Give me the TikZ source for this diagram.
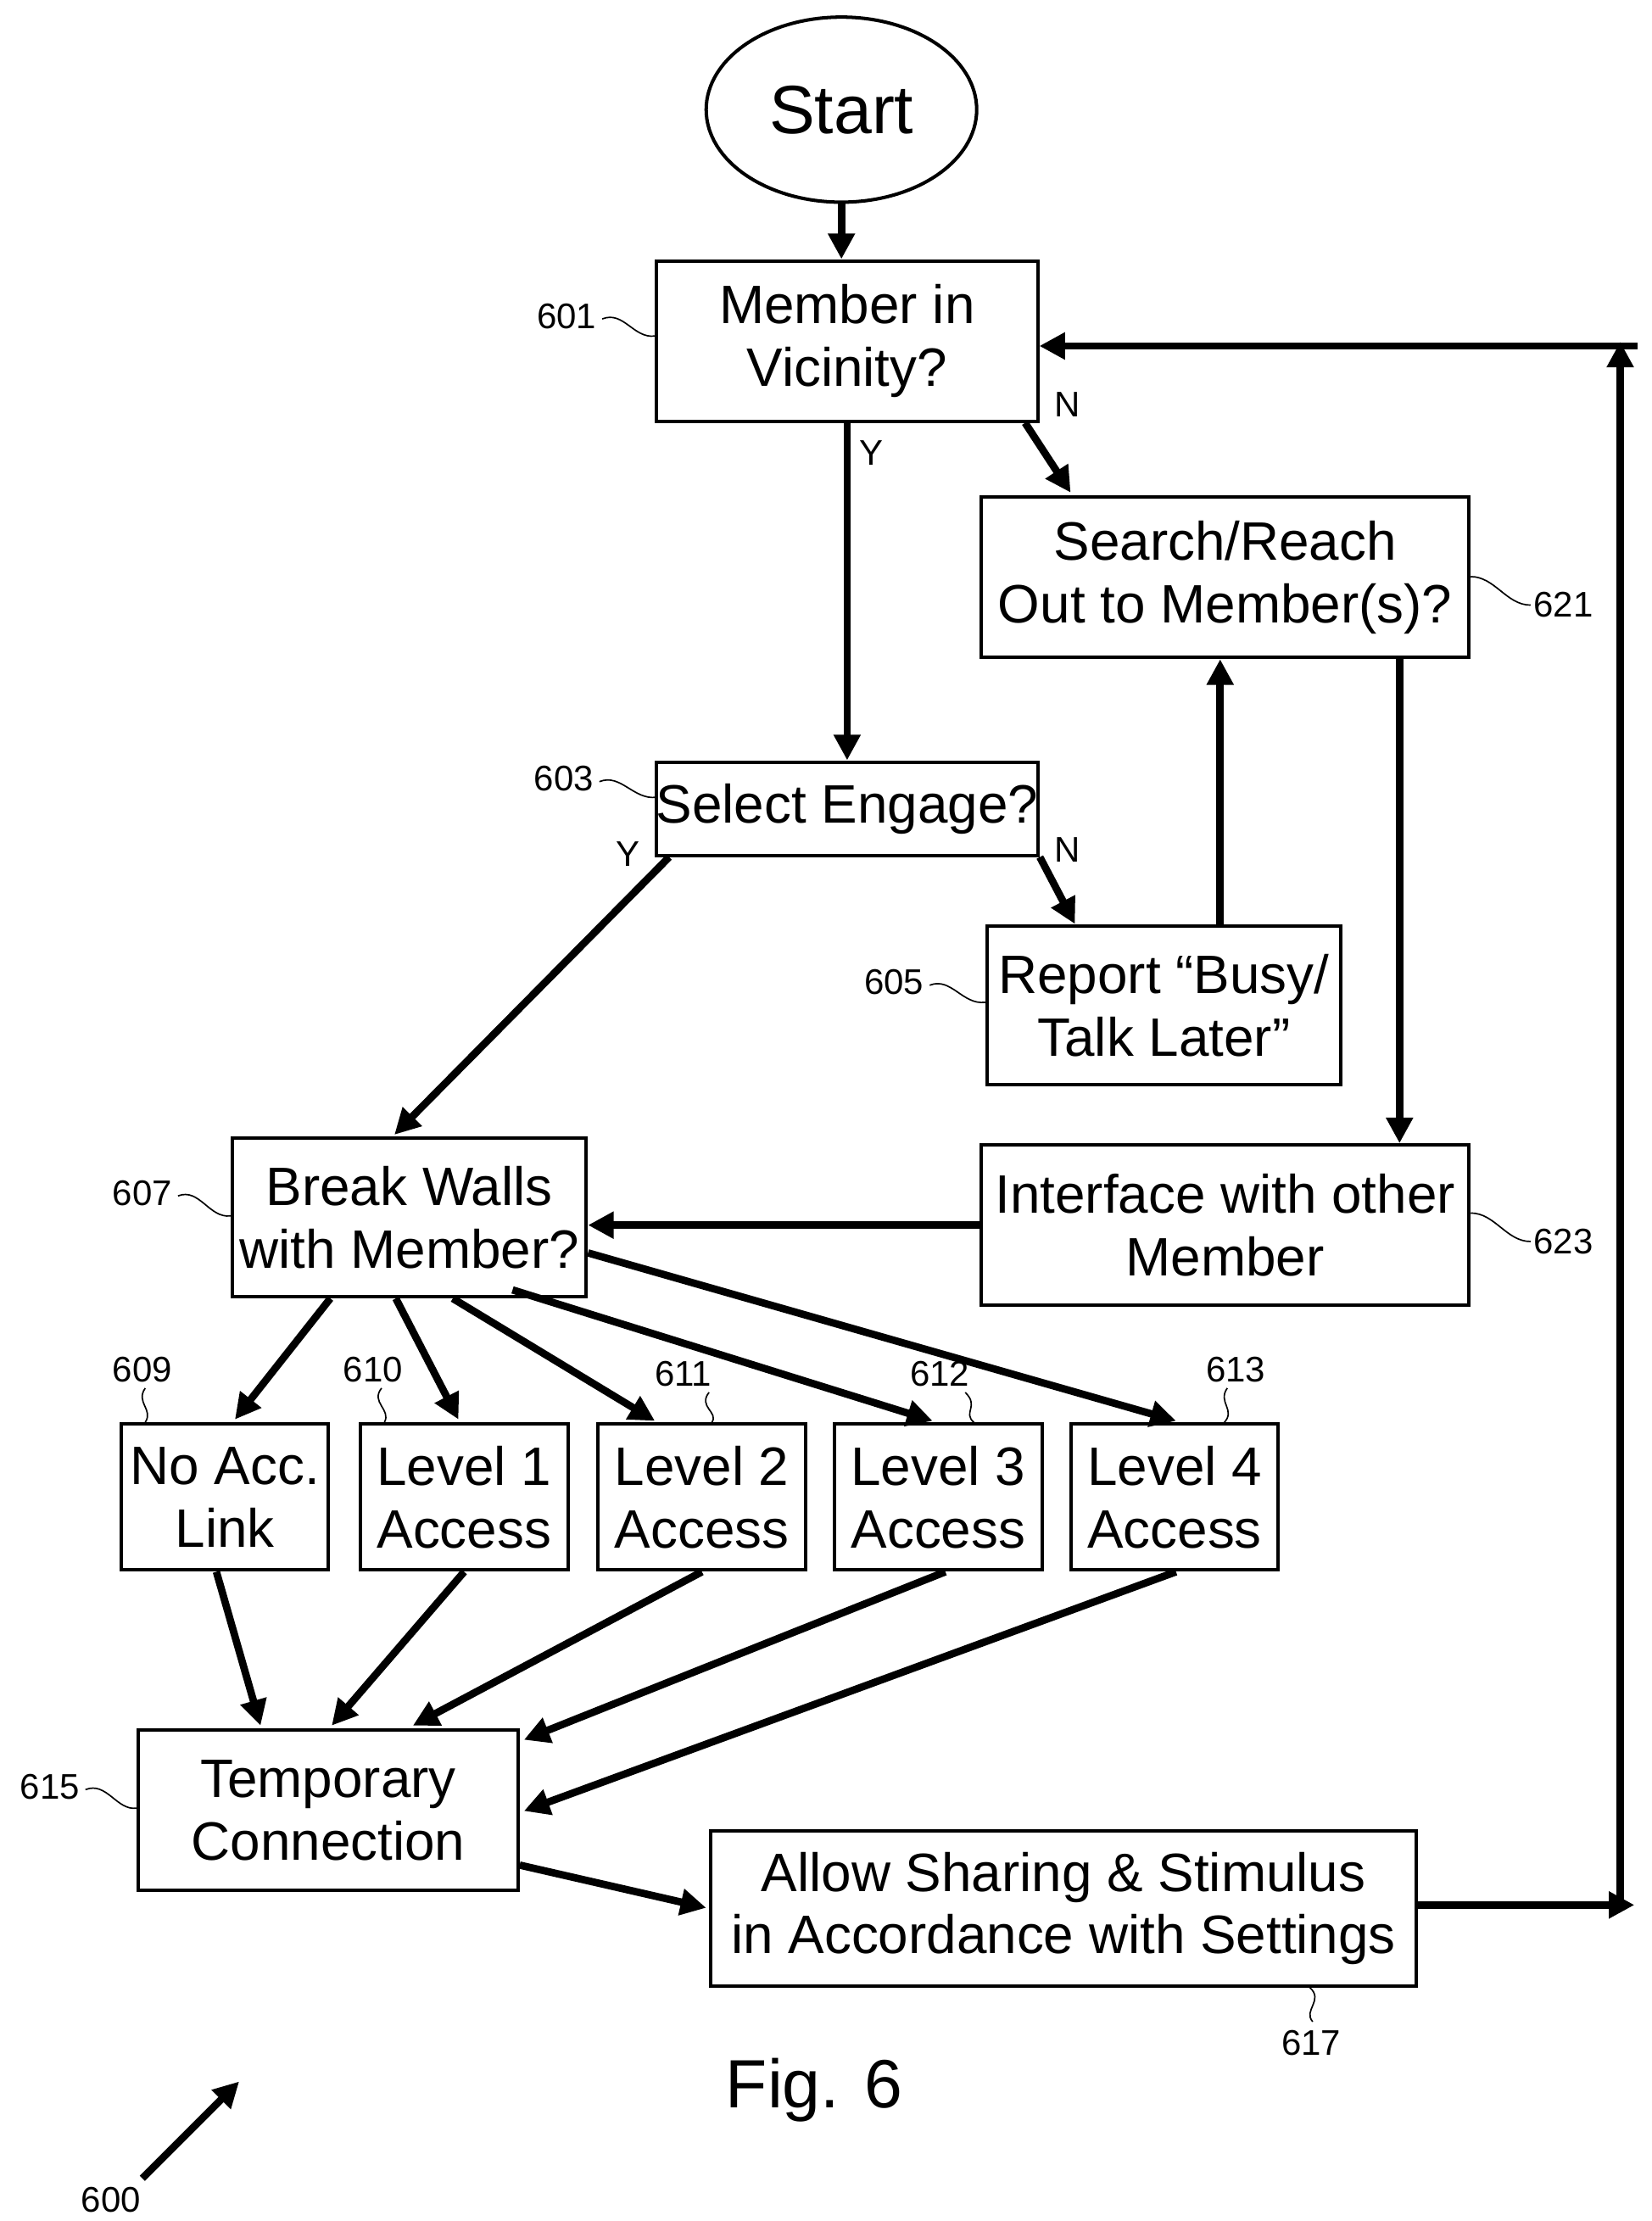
\documentclass[tikz,border=0pt]{standalone}
\usepackage{fontspec}
\setmainfont{Liberation Sans}
\usetikzlibrary{arrows.meta,shapes.geometric}
\begin{document}
\begin{tikzpicture}[x=0.5pt,y=-0.5pt,
  box/.style={draw,line width=1.2pt,inner sep=0pt,align=center,font=\fontsize{19}{22}\selectfont},
  ar/.style={line width=2.6pt,-{Triangle[length=9pt,width=9pt]}},
  lab/.style={font=\fontsize{12.5}{14}\selectfont},
  yn/.style={font=\fontsize{12.5}{14}\selectfont},
  ld/.style={line width=0.5pt}]
\useasboundingbox (0,0) rectangle (1160,1560);
\node[draw,ellipse,line width=1.2pt,minimum width=95pt,minimum height=65pt,font=\fontsize{24}{28}\selectfont] (st) at (591,77) {Start};
\newcommand{\bx}[6]{\node[box,minimum width=#4*0.5pt-1.2pt,minimum height=#5*0.5pt-1.2pt] (#1) at ({#2+#4/2},{#3+#5/2}) {#6};}
\bx{n601}{460}{182}{270}{115}{Member in\\Vicinity?}
\bx{n621}{688}{348}{345}{115}{Search/Reach\\Out to Member(s)?}
\bx{n603}{461}{534}{268}{68}{Select Engage?}
\bx{n605}{692}{649}{251}{114}{Report “Busy/\\Talk Later”}
\bx{n607}{162}{798}{251}{114}{Break Walls\\with Member?}
\bx{n623}{688}{803}{345}{115}{Interface with other\\Member}
\bx{n609}{84}{999}{148}{105}{No Acc.\\Link}
\bx{n610}{252}{999}{148}{105}{Level 1\\Access}
\bx{n611}{419}{999}{148}{105}{Level 2\\Access}
\bx{n612}{585}{999}{148}{105}{Level 3\\Access}
\bx{n613}{751}{999}{148}{105}{Level 4\\Access}
\bx{n615}{96}{1214}{269}{115}{Temporary\\Connection}
\bx{n617}{498}{1285}{498}{111}{Allow Sharing \& Stimulus\\in Accordance with Settings}
\node[font=\fontsize{24}{28}\selectfont] (fig) at (572,1468) {Fig. 6};
% arrows
\draw[ar] (st.south) -- (n601.north -| st.south);
\draw[ar] (n601.south) -- (n603.north);
\node[yn] (y1) at (612,318) {Y};
\draw[ar] (n601.south east) ++(-10,0) coordinate (c1) -- (752,346) coordinate (c2);
\node[yn] (nn1) at (750,284) {N};
\draw[ar] (470,602) coordinate (c3) -- (277,797) coordinate (c4);
\node[yn] (y2) at (441,600) {Y};
\draw[ar] (n603.south east) -- (755,649) coordinate (c5);
\node[yn] (nn2) at (750,597) {N};
\draw[ar] (n605.north -| 857,0) coordinate (c6) ++(0,0) -- (857,463) coordinate (c7);
\draw[ar] (983,463) coordinate (c8) -- (983,803) coordinate (c9);
\draw[ar] (n623.west) -- (n607.east |- n623.west);
\draw[ar] (232,912) coordinate (d1) -- (165,997) coordinate (e1);
\draw[ar] (278,912) coordinate (d2) -- (322,997) coordinate (e2);
\draw[ar] (318,912) coordinate (d3) -- (460,998) coordinate (e3);
\draw[ar] (360,906) coordinate (d4) -- (655,998) coordinate (e4);
\draw[ar] (413,880) coordinate (d5) -- (826,998) coordinate (e5);
\draw[ar] (152,1104) coordinate (f1) -- (183,1212) coordinate (g1);
\draw[ar] (326,1104) coordinate (f2) -- (233,1212) coordinate (g2);
\draw[ar] (493,1104) coordinate (f3) -- (290,1212) coordinate (g3);
\draw[ar] (664,1104) coordinate (f4) -- (368,1222) coordinate (g4);
\draw[ar] (826,1104) coordinate (f5) -- (368,1272) coordinate (g5);
\draw[ar] (365,1310) coordinate (h1) -- (496,1340) coordinate (h2);
\draw[ar] (n617.east |- 0,1338) coordinate (k1) -- (1148,1338) coordinate (k2);
\draw[ar] (1138,1338) coordinate (k3) -- (1138,240) coordinate (k4);
\draw[ar] (1150,243) coordinate (k5) -- (n601.east |- 0,243);
% 600 arrow
\draw[ar] (100,1530) coordinate (p1) -- (168,1462) coordinate (p2);
\node[lab] (l600) at (78,1545) {600};
% reference labels
\node[lab] (l601) at (398,222) {601};
\draw[ld] (423,224) .. controls (438,218) and (445,238) .. (460,236);
\node[lab] (l603) at (396,547) {603};
\draw[ld] (421,549) .. controls (436,543) and (445,562) .. (461,560);
\node[lab] (l605) at (628,690) {605};
\draw[ld] (653,692) .. controls (668,686) and (676,706) .. (692,704);
\node[lab] (l607) at (100,838) {607};
\draw[ld] (125,840) .. controls (140,834) and (147,856) .. (162,854);
\node[lab] (l615) at (35,1255) {615};
\draw[ld] (60,1257) .. controls (75,1251) and (82,1272) .. (96,1270);
\node[lab] (l621) at (1098,425) {621};
\draw[ld] (1033,405) .. controls (1050,405) and (1058,425) .. (1075,425);
\node[lab] (l623) at (1098,872) {623};
\draw[ld] (1033,852) .. controls (1050,852) and (1058,872) .. (1075,872);
\node[lab] (l609) at (100,962) {609};
\draw[ld] (102,975) .. controls (95,985) and (108,990) .. (102,999);
\node[lab] (l610) at (262,962) {610};
\draw[ld] (268,975) .. controls (260,985) and (275,990) .. (270,999);
\node[lab] (l611) at (480,965) {611};
\draw[ld] (498,978) .. controls (490,988) and (505,992) .. (500,999);
\node[lab] (l612) at (660,965) {612};
\draw[ld] (678,978) .. controls (688,988) and (676,992) .. (684,999);
\node[lab] (l613) at (868,962) {613};
\draw[ld] (862,975) .. controls (855,985) and (868,990) .. (860,999);
\node[lab] (l617) at (921,1435) {617};
\draw[ld] (920,1396) .. controls (930,1405) and (915,1412) .. (922,1420);
\end{tikzpicture}
\end{document}
